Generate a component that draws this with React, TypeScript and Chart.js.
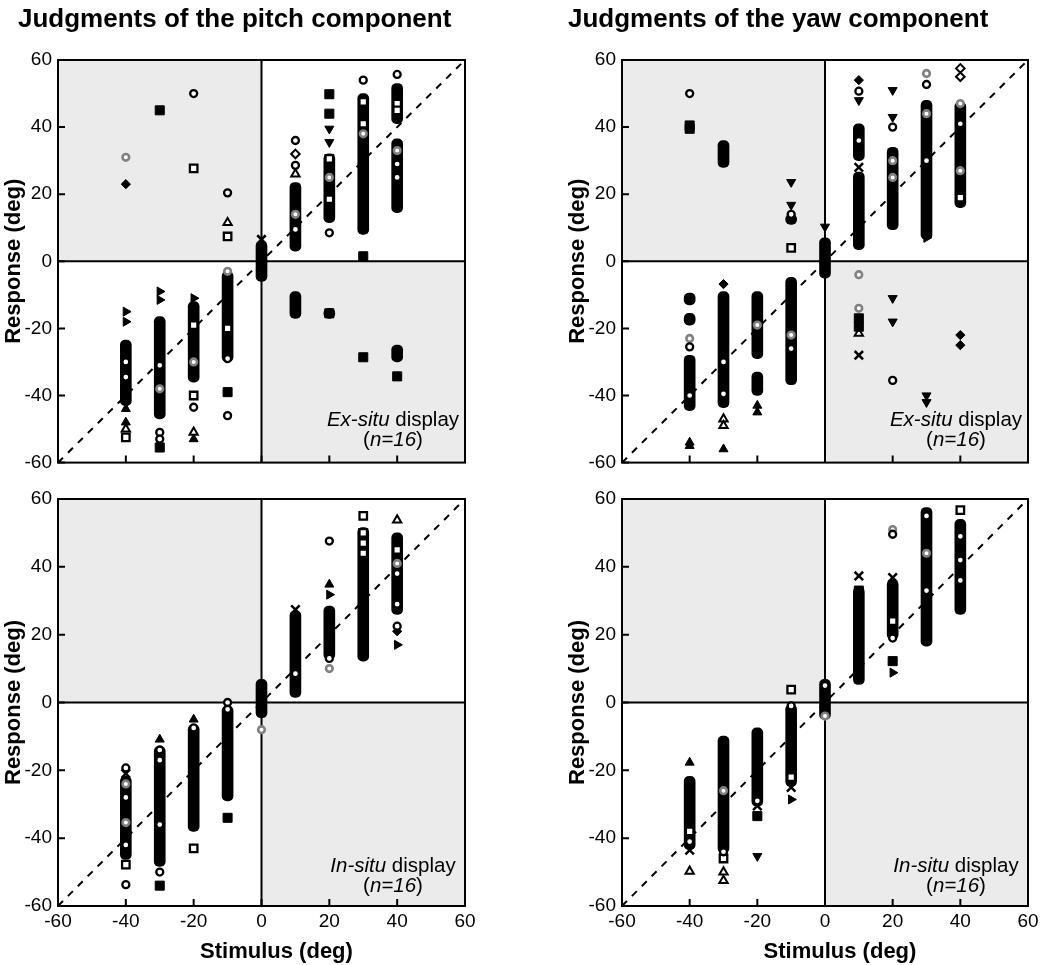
import React, { useEffect, useRef } from 'react';
import { Chart, registerables } from 'chart.js';

Chart.register(...registerables);

type Band = [number, number, number]; // [stimulus, lowest response, highest response] of a dense column
type Mark = [number, number, string]; // [stimulus, response, marker]

const FONT = '"Liberation Sans", Arial, Helvetica, sans-serif';

const stimulusTicks = [-60, -40, -20, 0, 20, 40, 60];
const responseTicks = [-60, -40, -20, 0, 20, 40, 60];
const panelTitles = ['Judgments of the pitch component', 'Judgments of the yaw component'];
const displayNames = ['Ex-situ', 'In-situ'];
const participants = 16;
const axisTitles = ['Stimulus (deg)', 'Response (deg)'];
const diagonalX = [-60, 60];
const diagonalY = [-60, 60];

// ---- Pitch, ex-situ display ----
const pitchExBands: Band[] = [
  [-40, -43, -23.5], [-30, -47, -16.5], [-20, -36, -12], [-10, -30, -3], [0, -6, 6],
  [10, 3, 23.5], [10, -17, -9], [20, 11.5, 32], [20, -17, -14], [30, 8, 50],
  [40, 41, 53], [40, 14.5, 36.5], [40, -30, -25],
];
const pitchExMarks: Mark[] = [
  [-40, 31, 'gray'], [-40, 23, 'fdiamond'], [-30, 45, 'fsquare'], [-20, 50, 'ocircle'], [-20, 27.7, 'osquare'],
  [-10, 20.4, 'ocircle'], [-10, 11.5, 'otriangle'], [-10, 7.4, 'osquare'], [0, 6.5, 'cross'],
  [10, 36, 'ocircle'], [10, 32, 'odiamond'], [10, 28.6, 'ocircle'], [10, 26, 'otriangle'], [10, 9.5, 'ocircle'], [10, 14, 'gray'],
  [20, 49.8, 'fsquare'], [20, 44, 'fsquare'], [20, 39.5, 'dtriangle'], [20, 35.5, 'dtriangle'], [20, 30.5, 'osquare'],
  [20, 25, 'gray'], [20, 18.5, 'osquare'], [20, 8.5, 'ocircle'],
  [30, 54, 'ocircle'], [30, 47.5, 'osquare'], [30, 41, 'osquare'], [30, 38, 'gray'], [30, 1.5, 'fsquare'],
  [40, 55.7, 'ocircle'], [40, 47, 'osquare'], [40, 45, 'osquare'], [40, 33, 'gray'], [40, 29, 'ocircle'], [40, 25, 'ocircle'], [40, 16, 'fdiamond'],
  [30, -28.6, 'fsquare'], [40, -34.3, 'fsquare'], [20, -15.5, 'fsquare'],
  [-40, -15, 'flag'], [-40, -18, 'flag'], [-40, -30, 'ocircle'], [-40, -34.5, 'ocircle'], [-40, -44, 'ftriangle'],
  [-40, -48, 'ftriangle'], [-40, -50, 'otriangle'], [-40, -52.5, 'osquare'],
  [-30, -9, 'flag'], [-30, -11.5, 'flag'], [-30, -31, 'ocircle'], [-30, -38, 'gray'], [-30, -51, 'ocircle'], [-30, -53, 'ocircle'], [-30, -55.5, 'fsquare'],
  [-20, -11, 'flag'], [-20, -19, 'osquare'], [-20, -30, 'gray'], [-20, -40, 'osquare'], [-20, -43.5, 'ocircle'], [-20, -51, 'otriangle'], [-20, -53, 'ftriangle'],
  [-10, -3, 'gray'], [-10, -20, 'osquare'], [-10, -29, 'ocircle'], [-10, -39, 'fsquare'], [-10, -46, 'ocircle'],
];

// ---- Yaw, ex-situ display ----
const yawExBands: Band[] = [
  [-30, 28, 36], [-10, 11, 14], [0, -5, 7], [10, 30, 41], [10, 3.5, 26.6], [20, 9.4, 34], [30, 6.5, 48], [40, 16, 47.5],
  [-40, -44.5, -28], [-40, -13, -9.5], [-40, -19, -15.5], [-30, -43.6, -9], [-20, -29, -9], [-20, -40, -33], [-10, -36.8, -4.8],
];
const yawExMarks: Mark[] = [
  [-40, 50, 'ocircle'], [-40, 39.5, 'fsquare'], [-40, 40.5, 'fsquare'],
  [-10, 23.6, 'dtriangle'], [-10, 16.8, 'dtriangle'], [-10, 14, 'ocircle'], [-10, 4, 'osquare'], [0, 10.3, 'dtriangle'],
  [10, 54, 'fdiamond'], [10, 50.7, 'ocircle'], [10, 48, 'dtriangle'], [10, 36, 'ocircle'], [10, 28, 'cross'],
  [20, 51, 'dtriangle'], [20, 43, 'dtriangle'], [20, 40, 'ocircle'], [20, 30, 'gray'], [20, 25, 'gray'],
  [30, 56, 'gray'], [30, 52.7, 'ocircle'], [30, 44, 'gray'], [30, 30, 'ocircle'], [30, 7, 'flag'],
  [40, 57.5, 'odiamond'], [40, 55, 'odiamond'], [40, 47, 'gray'], [40, 41, 'ocircle'], [40, 27, 'gray'], [40, 19, 'osquare'],
  [10, -4, 'gray'], [10, -14, 'gray'], [10, -17, 'fsquare'], [10, -19.5, 'fsquare'], [10, -21.5, 'otriangle'], [10, -28, 'cross'],
  [20, -11, 'dtriangle'], [20, -18, 'dtriangle'], [20, -35.5, 'ocircle'], [30, -40, 'dtriangle'], [30, -42, 'dtriangle'],
  [40, -22, 'fdiamond'], [40, -25, 'fdiamond'],
  [-40, -23, 'gray'], [-40, -25.5, 'ocircle'], [-40, -40, 'ocircle'], [-40, -54, 'ftriangle'], [-40, -55, 'ftriangle'],
  [-30, -6.8, 'fdiamond'], [-30, -30, 'ocircle'], [-30, -39.5, 'ocircle'], [-30, -47, 'otriangle'], [-30, -49, 'otriangle'], [-30, -56, 'ftriangle'],
  [-20, -19, 'gray'], [-20, -43, 'ftriangle'], [-20, -45, 'ftriangle'], [-10, -22, 'gray'], [-10, -26, 'ocircle'],
];

// ---- Pitch, in-situ display ----
const pitchInBands: Band[] = [
  [-40, -46.3, -21.8], [-30, -48.3, -12.9], [-20, -38, -6.5], [-10, -29, -1], [0, -4.5, 6.8],
  [10, 1.5, 27], [20, 12.7, 28.4], [30, 12.2, 51.6], [40, 26, 50],
];
const pitchInMarks: Mark[] = [
  [-40, -19.3, 'ocircle'], [-40, -21, 'cross'], [-40, -24, 'gray'], [-40, -28, 'ocircle'], [-40, -35.4, 'gray'],
  [-40, -42, 'ocircle'], [-40, -47.8, 'osquare'], [-40, -53.7, 'ocircle'],
  [-30, -10.9, 'ftriangle'], [-30, -14, 'ocircle'], [-30, -17, 'ocircle'], [-30, -36, 'ocircle'], [-30, -50, 'ocircle'], [-30, -54, 'fsquare'],
  [-20, -5, 'ftriangle'], [-20, -7.5, 'ocircle'], [-20, -43, 'osquare'],
  [-10, 0, 'ocircle'], [-10, -2, 'ocircle'], [-10, -34, 'fsquare'], [0, -8, 'gray'],
  [10, 27.4, 'cross'], [10, 8.5, 'ocircle'],
  [20, 47.6, 'ocircle'], [20, 34.8, 'ftriangle'], [20, 31.8, 'flag'], [20, 13, 'ocircle'], [20, 10, 'gray'],
  [30, 55, 'osquare'], [30, 50, 'osquare'], [30, 47, 'osquare'], [30, 44, 'osquare'],
  [40, 53.8, 'otriangle'], [40, 45, 'osquare'], [40, 41, 'gray'], [40, 38, 'ocircle'], [40, 29, 'ocircle'],
  [40, 22.5, 'ocircle'], [40, 21, 'fdiamond'], [40, 17, 'flag'],
];

// ---- Yaw, in-situ display ----
const yawInBands: Band[] = [
  [-40, -43.4, -21.8], [-30, -44.4, -9.9], [-20, -30.6, -7.5], [-10, -24.7, -0.6], [0, -5, 6.8],
  [10, 5.3, 34], [20, 18.6, 36.2], [30, 16.6, 57.5], [40, 26, 54],
];
const yawInMarks: Mark[] = [
  [-40, -17.7, 'ftriangle'], [-40, -38, 'osquare'], [-40, -41, 'ocircle'], [-40, -43.5, 'cross'], [-40, -49.8, 'otriangle'],
  [-30, -26, 'gray'], [-30, -44, 'ocircle'], [-30, -46, 'osquare'], [-30, -50, 'otriangle'], [-30, -52.5, 'otriangle'],
  [-20, -29, 'ocircle'], [-20, -30.5, 'cross'], [-20, -33.5, 'fsquare'], [-20, -45.3, 'dtriangle'],
  [-10, 3.8, 'osquare'], [-10, -1, 'ocircle'], [-10, -22, 'osquare'], [-10, -25, 'cross'], [-10, -28.6, 'flag'],
  [0, 5, 'ocircle'], [0, -4, 'gray'],
  [10, 37.3, 'cross'], [10, 33, 'fsquare'], [10, 28.5, 'cross'],
  [20, 51, 'gray'], [20, 49.6, 'ocircle'], [20, 36.8, 'cross'], [20, 24, 'osquare'], [20, 19, 'ocircle'], [20, 12.2, 'fsquare'], [20, 8.8, 'flag'],
  [30, 55, 'ocircle'], [30, 44, 'gray'], [30, 33, 'ocircle'],
  [40, 56.7, 'osquare'], [40, 49, 'ocircle'], [40, 42, 'ocircle'], [40, 36, 'ocircle'], [40, 28, 'flag'],
];

// ---- marker appearance ----
const MARKERS: Record<string, { style: string; r: number; bg: string; bd: string; bw: number; rot?: number }> = {
  ocircle: { style: 'circle', r: 3.5, bg: '#ffffff', bd: '#000000', bw: 2.3 },
  gray: { style: 'circle', r: 3.3, bg: '#ffffff', bd: '#808080', bw: 2.6 },
  fsquare: { style: 'rect', r: 6.4, bg: '#000000', bd: '#000000', bw: 1 },
  osquare: { style: 'rect', r: 5.3, bg: '#ffffff', bd: '#000000', bw: 2.3 },
  fdiamond: { style: 'rectRot', r: 4.6, bg: '#000000', bd: '#000000', bw: 1 },
  odiamond: { style: 'rectRot', r: 4.3, bg: '#ffffff', bd: '#000000', bw: 2 },
  ftriangle: { style: 'triangle', r: 5.2, bg: '#000000', bd: '#000000', bw: 1 },
  otriangle: { style: 'triangle', r: 4.8, bg: '#ffffff', bd: '#000000', bw: 2 },
  dtriangle: { style: 'triangle', r: 5.2, bg: '#000000', bd: '#000000', bw: 1, rot: 180 },
  flag: { style: 'triangle', r: 5.2, bg: '#000000', bd: '#000000', bw: 1, rot: 90 },
  cross: { style: 'crossRot', r: 6, bg: '#000000', bd: '#000000', bw: 2.5 },
};

type PanelSpec = {
  left: number; top: number; w: number; h: number;
  pad: { left: number; right: number; top: number; bottom: number };
  showX: boolean; title: string | null; titleX: number; display: string;
  textLift: [number, number]; bands: Band[]; marks: Mark[];
};

const decoPlugin = {
  id: 'panelDeco',
  beforeDatasetsDraw(chart: any) {
    const { ctx, chartArea: a, scales } = chart;
    const x0 = scales.x.getPixelForValue(0);
    const y0 = scales.y.getPixelForValue(0);
    ctx.save();
    ctx.fillStyle = '#ebebeb';
    ctx.fillRect(a.left, a.top, x0 - a.left, y0 - a.top);
    ctx.fillRect(x0, y0, a.right - x0, a.bottom - y0);
    ctx.strokeStyle = '#000';
    ctx.lineWidth = 2;
    ctx.beginPath();
    ctx.moveTo(x0, a.top); ctx.lineTo(x0, a.bottom);
    ctx.moveTo(a.left, y0); ctx.lineTo(a.right, y0);
    ctx.stroke();
    ctx.restore();
  },
  afterDatasetsDraw(chart: any, _a: any, o: any) {
    const { ctx, chartArea: a, scales } = chart;
    ctx.save();
    ctx.strokeStyle = '#000';
    ctx.lineWidth = 2;
    ctx.strokeRect(a.left, a.top, a.right - a.left, a.bottom - a.top);
    ctx.beginPath();
    stimulusTicks.forEach((v) => {
      const px = scales.x.getPixelForValue(v);
      ctx.moveTo(px, a.bottom); ctx.lineTo(px, a.bottom - 7);
    });
    responseTicks.forEach((v) => {
      const py = scales.y.getPixelForValue(v);
      ctx.moveTo(a.left, py); ctx.lineTo(a.left + 7, py);
    });
    ctx.stroke();

    // annotation
    ctx.fillStyle = '#000';
    ctx.textBaseline = 'alphabetic';
    const cx = a.right - 72;
    const it = `italic 20.5px ${FONT}`;
    const rg = `20.5px ${FONT}`;
    const drawRuns = (runs: [string, string][], y: number) => {
      let total = 0;
      runs.forEach(([t, f]) => { ctx.font = f; total += ctx.measureText(t).width; });
      let x = cx - total / 2;
      ctx.textAlign = 'left';
      runs.forEach(([t, f]) => { ctx.font = f; ctx.fillText(t, x, y); x += ctx.measureText(t).width; });
    };
    drawRuns([[o.display, it], [' display', rg]], a.bottom - o.textLift[0]);
    drawRuns([['(', rg], [`n=${participants}`, it], [')', rg]], a.bottom - o.textLift[1]);

    if (o.showX) {
      ctx.font = `bold 22px ${FONT}`;
      ctx.textAlign = 'center';
      ctx.fillText(axisTitles[0], scales.x.getPixelForValue(0) + 15, chart.height - 7);
    }
    if (o.title) {
      ctx.font = `bold 26px ${FONT}`;
      ctx.textAlign = 'left';
      ctx.fillText(o.title, o.titleX, 27);
    }
    ctx.restore();
  },
};

function buildConfig(p: PanelSpec): any {
  const datasets: any[] = [];
  datasets.push({
    type: 'line',
    data: diagonalX.map((x, i) => ({ x, y: diagonalY[i] })),
    borderColor: '#000', borderWidth: 2, borderDash: [7, 7], pointRadius: 0, fill: false, order: 10,
  });
  datasets.push({
    type: 'bar',
    data: p.bands.map(([s, lo, hi]) => ({ x: s, y: [lo, hi] })),
    backgroundColor: '#000', borderWidth: 0, barThickness: 11, borderRadius: 5, borderSkipped: false, order: 5,
  });
  Object.keys(MARKERS).forEach((key) => {
    const pts = p.marks.filter((m) => m[2] === key);
    if (!pts.length) return;
    const m = MARKERS[key];
    datasets.push({
      type: 'scatter',
      data: pts.map(([x, y]) => ({ x, y })),
      pointStyle: m.style, pointRadius: m.r, pointBackgroundColor: m.bg, pointBorderColor: m.bd,
      pointBorderWidth: m.bw, pointRotation: m.rot || 0, showLine: false, order: 0,
    });
  });
  const tickFont = { family: FONT, size: 19 };
  return {
    type: 'scatter',
    data: { datasets },
    plugins: [decoPlugin],
    options: {
      responsive: false,
      maintainAspectRatio: false,
      devicePixelRatio: 1,
      animation: false,
      events: [],
      layout: { padding: p.pad },
      plugins: {
        legend: { display: false },
        tooltip: { enabled: false },
        panelDeco: { title: p.title, titleX: p.titleX, display: p.display, textLift: p.textLift, showX: p.showX },
      },
      scales: {
        x: {
          type: 'linear', min: -60, max: 60, offset: false,
          grid: { display: false, drawTicks: false, offset: false },
          border: { display: false },
          ticks: { display: p.showX, stepSize: 20, font: tickFont, color: '#000', padding: 4, maxRotation: 0, autoSkip: false },
          afterBuildTicks: (s: any) => { s.ticks = stimulusTicks.map((v) => ({ value: v })); },
          afterFit: (s: any) => { s.height = p.showX ? 59 : 15; },
        },
        y: {
          type: 'linear', min: -60, max: 60,
          grid: { display: false, drawTicks: false },
          border: { display: false },
          ticks: { stepSize: 20, font: tickFont, color: '#000', padding: 6, autoSkip: false },
          afterBuildTicks: (s: any) => { s.ticks = responseTicks.map((v) => ({ value: v })); },
          title: { display: true, text: axisTitles[1], color: '#000', font: { family: FONT, size: 22, weight: 'bold' }, padding: { top: 1, bottom: 0 } },
          afterFit: (s: any) => { s.width = 58; },
        },
      },
    },
  };
}

const panels: PanelSpec[] = [
  { left: 0, top: 0, w: 525, h: 480, pad: { left: 0, right: 60, top: 60, bottom: 0 }, showX: false, title: panelTitles[0], titleX: 18, display: displayNames[0], textLift: [37, 17], bands: pitchExBands, marks: pitchExMarks },
  { left: 525, top: 0, w: 525, h: 480, pad: { left: 39, right: 22, top: 60, bottom: 0 }, showX: false, title: panelTitles[1], titleX: 43, display: displayNames[0], textLift: [37, 17], bands: yawExBands, marks: yawExMarks },
  { left: 0, top: 480, w: 525, h: 485, pad: { left: 0, right: 60, top: 19, bottom: 0 }, showX: true, title: null, titleX: 0, display: displayNames[1], textLift: [34, 14], bands: pitchInBands, marks: pitchInMarks },
  { left: 525, top: 480, w: 525, h: 485, pad: { left: 39, right: 22, top: 19, bottom: 0 }, showX: true, title: null, titleX: 0, display: displayNames[1], textLift: [34, 14], bands: yawInBands, marks: yawInMarks },
];

function Panel({ spec }: { spec: PanelSpec }) {
  const ref = useRef<HTMLCanvasElement>(null);
  useEffect(() => {
    if (!ref.current) return;
    const chart = new Chart(ref.current, buildConfig(spec));
    return () => chart.destroy();
  }, [spec]);
  return (
    <div style={{ position: 'absolute', left: spec.left, top: spec.top, width: spec.w, height: spec.h }}>
      <canvas ref={ref} width={spec.w} height={spec.h} style={{ display: 'block' }} />
    </div>
  );
}

export default function App() {
  return (
    <div style={{ position: 'absolute', left: 0, top: 0, width: 1050, height: 965, background: '#fff' }}>
      {panels.map((p, i) => <Panel key={i} spec={p} />)}
    </div>
  );
}
